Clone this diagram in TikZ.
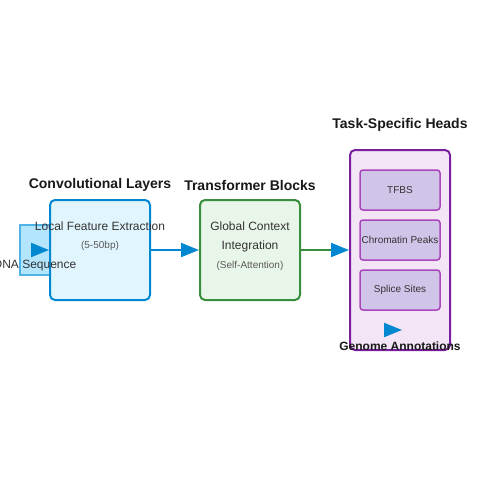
\documentclass[tikz,border=0pt]{standalone}
\usepackage{fontspec}
\setmainfont{Liberation Sans}
\usetikzlibrary{arrows.meta,positioning}
\definecolor{convfill}{HTML}{E1F5FE}
\definecolor{convline}{HTML}{0288D1}
\definecolor{dnafill}{HTML}{B3E5FC}
\definecolor{dnaline}{HTML}{4FB3E5}
\definecolor{transfill}{HTML}{E8F5E9}
\definecolor{transline}{HTML}{388E3C}
\definecolor{headfill}{HTML}{F3E5F5}
\definecolor{headline}{HTML}{7B1FA2}
\definecolor{taskfill}{HTML}{D1C4E9}
\definecolor{taskline}{HTML}{AB47BC}
\begin{document}
\begin{tikzpicture}[x=1pt,y=-1pt,
		block/.style={draw,rounded corners=5pt,line width=2pt,minimum width=100pt,minimum height=100pt,inner sep=0pt},
		task/.style={draw=taskline,fill=taskfill,rounded corners=3pt,line width=1.5pt,minimum width=80pt,minimum height=40pt,inner sep=0pt,font=\fontsize{10}{12}\selectfont,text=black!80},
		title/.style={font=\bfseries\fontsize{14}{16}\selectfont,text=black!90},
		label/.style={font=\fontsize{12}{14}\selectfont,text=black!80},
		note/.style={font=\fontsize{10}{12}\selectfont,text=black!65},
		flow/.style={draw=convline,line width=2pt,-{Triangle[length=18pt,width=14pt,color=convline]}}]
	\useasboundingbox[fill=white] (0,0) rectangle (500,500);
	\node[draw=dnaline,fill=dnafill,line width=1.5pt,minimum width=30pt,minimum height=50pt,inner sep=0pt] (dna) at (35,250) {};
	\node[block,draw=convline,fill=convfill] (conv) at (100,250) {};
	\node[block,draw=transline,fill=transfill] (trans) at (250,250) {};
	\node[block,draw=headline,fill=headfill,minimum height=200pt] (heads) at (400,250) {};
	\node[label] (dnatext) at (35,266) {DNA Sequence};
	\node[title] (convtitle) at (100,185) {Convolutional Layers};
	\node[title] (transtitle) at (250,185) {Transformer Blocks};
	\node[title] (headstitle) at (400,125) {Task-Specific Heads};
	\node[label] (local) at (100,226) {Local Feature Extraction};
	\node[note] (range) at (100,246) {(5-50bp)};
	\node[label] (global) at (250,226) {Global Context};
	\node[label] (integ) at (250,246) {Integration};
	\node[note] (attn) at (250,266) {(Self-Attention)};
	\node[task] (tfbs) at (400,190) {TFBS};
	\node[task] (peaks) at (400,240) {Chromatin Peaks};
	\node[task] (splice) at (400,290) {Splice Sites};
	\coordinate (outs) at (384,330);
	\coordinate (oute) at (402,330);
	\draw[flow] (dna.center) -- (conv.west);
	\draw[flow] (conv) -- (trans);
	\draw[flow,draw=transline] (trans) -- (heads);
	\draw[flow] (outs) -- (oute);
	\node[title,font=\bfseries\fontsize{12}{14}\selectfont] (genome) at (400,346) {Genome Annotations};
\end{tikzpicture}
\end{document}
